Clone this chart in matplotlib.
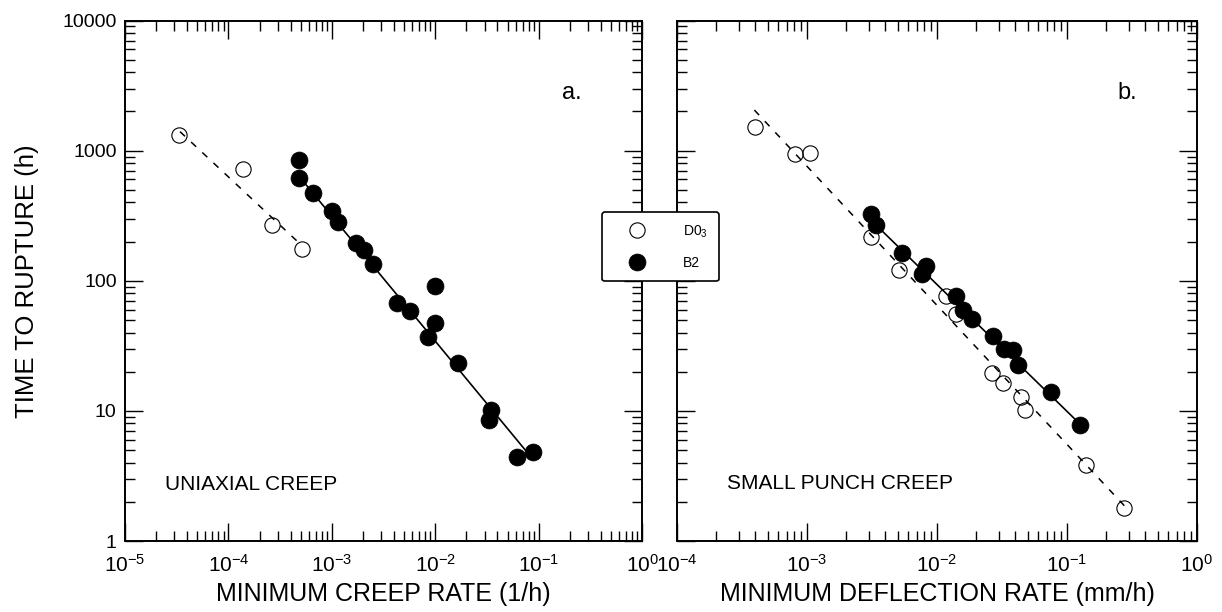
import numpy as np
import matplotlib
matplotlib.use("Agg")
import matplotlib.pyplot as plt
from matplotlib.lines import Line2D

# --- data ---
# (a) uniaxial creep
uni_d03_rate = [3.35e-5, 1.37e-4, 2.62e-4, 5.12e-4]
uni_d03_time = [1320, 718, 268, 174]
uni_b2_rate = [4.86e-4, 4.86e-4, 6.62e-4, 1.01e-3, 1.16e-3, 1.71e-3, 2.06e-3, 2.52e-3,
               4.25e-3, 5.70e-3, 9.95e-3, 9.95e-3, 8.57e-3, 1.67e-2, 3.47e-2, 3.33e-2,
               6.22e-2, 8.77e-2]
uni_b2_time = [848, 620, 470, 345, 284, 194, 172, 134,
               68, 58.7, 91, 47.6, 37.2, 23.4, 10.1, 8.5,
               4.4, 4.8]
uni_d03_fit_x = [3.4e-5, 5.0e-4]
uni_d03_fit_y = [1400, 190]
uni_b2_fit_x = [4.92e-4, 7.38e-2]
uni_b2_fit_y = [622, 5.03]

# (b) small punch creep
sp_d03_rate = [3.96e-4, 8.04e-4, 1.05e-3, 3.09e-3, 5.07e-3, 1.17e-2, 1.41e-2,
               2.67e-2, 3.22e-2, 4.46e-2, 4.73e-2, 0.139, 0.274]
sp_d03_time = [1524, 935, 952, 217, 122, 77, 56,
               19.5, 16.5, 12.8, 10.2, 3.81, 1.80]
sp_b2_rate = [3.13e-3, 3.42e-3, 5.38e-3, 8.19e-3, 7.73e-3, 1.39e-2, 1.58e-2,
              1.87e-2, 2.70e-2, 3.26e-2, 3.85e-2, 4.20e-2, 7.59e-2, 0.125]
sp_b2_time = [323, 267, 164, 130, 113, 76, 59.3,
              50.6, 37.6, 30, 29.6, 22.4, 14.0, 7.83]
sp_d03_fit_x = [3.94e-4, 0.283]
sp_d03_fit_y = [2050, 1.82]
sp_b2_fit_x = [3.31e-3, 0.1216]
sp_b2_fit_y = [275, 8.2]

plt.rcParams["font.family"] = ["Liberation Sans", "DejaVu Sans"]
plt.rcParams["mathtext.fontset"] = "custom"
plt.rcParams["mathtext.rm"] = "Liberation Sans"
plt.rcParams["axes.unicode_minus"] = False

OPEN = dict(marker="o", ms=11, mfc="none", mec="black", mew=0.8, ls="none", zorder=3)
FILLED = dict(marker="o", ms=12.2, mfc="black", mec="black", mew=0.5, ls="none", zorder=4)


def style_axes(ax, xlim, show_ylabels):
    ax.set_xscale("log")
    ax.set_yscale("log")
    ax.set_xlim(*xlim)
    ax.set_ylim(1, 1e4)
    for sp in ax.spines.values():
        sp.set_linewidth(1.4)
    ax.tick_params(which="both", direction="in", top=True, right=True, width=1.0)
    ax.tick_params(which="major", length=13)
    ax.tick_params(which="minor", length=7)
    ax.tick_params(axis="x", which="major", labelsize=15, pad=9)
    ax.tick_params(axis="y", which="major", labelsize=14, pad=6, labelleft=show_ylabels)
    if show_ylabels:
        ax.set_yticks([1, 10, 100, 1000, 10000])
        ax.set_yticklabels(["1", "10", "100", "1000", "10000"])


fig = plt.figure(figsize=(12.22, 6.12), dpi=100)
ax1 = fig.add_axes([0.1023, 0.1160, 0.4231, 0.8505])
ax2 = fig.add_axes([0.5540, 0.1160, 0.4255, 0.8505])

# panel a
ax1.plot(uni_d03_fit_x, uni_d03_fit_y, color="black", lw=1.1, ls=(0, (4.5, 5.5)), zorder=2)
ax1.plot(uni_b2_fit_x, uni_b2_fit_y, color="black", lw=1.2, zorder=2)
ax1.plot(uni_d03_rate, uni_d03_time, **OPEN)
ax1.plot(uni_b2_rate, uni_b2_time, **FILLED)
style_axes(ax1, (1e-5, 1), True)
ax1.set_xlabel("MINIMUM CREEP RATE (1/h)", fontsize=18, labelpad=5)
ax1.set_ylabel("TIME TO RUPTURE (h)", fontsize=18.5, labelpad=17)
ax1.text(0.865, 0.861, "a.", transform=ax1.transAxes, fontsize=17, ha="center", va="center")
ax1.text(0.077, 0.108, "UNIAXIAL CREEP", transform=ax1.transAxes, fontsize=15, ha="left", va="center")

# panel b
ax2.plot(sp_d03_fit_x, sp_d03_fit_y, color="black", lw=1.1, ls=(0, (4.5, 5.5)), zorder=2)
ax2.plot(sp_b2_fit_x, sp_b2_fit_y, color="black", lw=1.2, zorder=2)
ax2.plot(sp_d03_rate, sp_d03_time, **OPEN)
ax2.plot(sp_b2_rate, sp_b2_time, **FILLED)
style_axes(ax2, (1e-4, 1), False)
ax2.set_xlabel("MINIMUM DEFLECTION RATE (mm/h)", fontsize=18, labelpad=5)
ax2.text(0.865, 0.861, "b.", transform=ax2.transAxes, fontsize=17, ha="center", va="center")
ax2.text(0.096, 0.11, "SMALL PUNCH CREEP", transform=ax2.transAxes, fontsize=15, ha="left", va="center")

# shared legend sitting over the gap between panels
handles = [Line2D([], [], **OPEN), Line2D([], [], **FILLED)]
leg = fig.legend(handles, ["D0$_3$", "B2"], loc="center", bbox_to_anchor=(0.5405, 0.597),
                 fontsize=10, frameon=True, fancybox=True, borderpad=0.8,
                 handlelength=3.4, handletextpad=1.6, labelspacing=1.2, borderaxespad=0)
leg.get_frame().set_edgecolor("black")
leg.get_frame().set_linewidth(1.2)
leg.get_frame().set_alpha(1)
leg.set_zorder(10)

fig.savefig("out.png", dpi=100)
